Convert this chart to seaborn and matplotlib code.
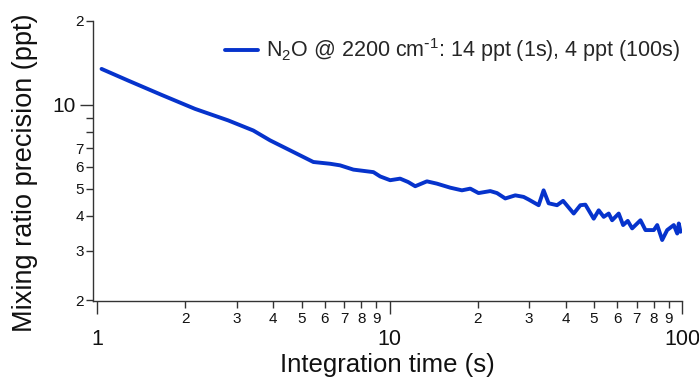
import matplotlib
import pandas as pd
import seaborn as sns

matplotlib.use("Agg")
from matplotlib import pyplot as plt
from matplotlib.ticker import FixedFormatter, FixedLocator

# Allan-type precision curve
time_s = [1.034, 1.275, 1.659, 2.158, 2.805, 3.416, 3.897, 4.563, 5.483, 6.255,
          6.768, 7.516, 8.800, 9.279, 10.04, 10.86, 11.57, 12.23, 13.41, 14.51,
          16.11, 17.67, 18.87, 20.14, 22.09, 23.29, 24.86, 26.90, 28.72, 29.88,
          32.33, 33.62, 34.98, 37.37, 39.20, 42.62, 44.91, 46.72, 49.89, 51.89,
          53.98, 56.15, 57.67, 60.75, 62.89, 65.23, 67.53, 72.10, 74.99, 80.09,
          82.27, 85.54, 88.98, 93.74, 96.30, 97.50, 98.80]
precision_ppt = [13.44, 12.21, 10.85, 9.67, 8.79, 8.09, 7.46, 6.87, 6.24, 6.15,
                 6.07, 5.86, 5.74, 5.54, 5.37, 5.44, 5.29, 5.11, 5.32, 5.22,
                 5.05, 4.94, 5.01, 4.83, 4.91, 4.83, 4.62, 4.74, 4.68, 4.58,
                 4.37, 4.94, 4.44, 4.37, 4.53, 4.08, 4.37, 4.39, 3.91, 4.19,
                 3.97, 4.08, 3.86, 4.08, 3.71, 3.84, 3.61, 3.86, 3.56, 3.56,
                 3.71, 3.28, 3.56, 3.71, 3.46, 3.76, 3.51]
series_label = r"N$_\mathregular{2}$O @ 2200 cm$^\mathregular{\text{-}1}$: 14 ppt (1s), 4 ppt (100s)"

x_major = [1, 10, 100]
x_major_labels = ["1", "10", "100"]
x_minor = [2, 3, 4, 5, 6, 7, 8, 9, 20, 30, 40, 50, 60, 70, 80, 90]
x_minor_labels = ["2", "3", "4", "5", "6", "7", "8", "9"] * 2
y_major = [10]
y_major_labels = ["10"]
y_minor = [2, 3, 4, 5, 6, 7, 8, 9, 20]
y_minor_labels = ["2", "3", "4", "5", "6", "7", "", "", "2"]

sns.set_theme(style="ticks")
plt.rcParams["font.family"] = ["Liberation Sans", "DejaVu Sans"]

df = pd.DataFrame({"time": time_s, "precision": precision_ppt})

fig = plt.figure(figsize=(6.99, 3.79), dpi=100)
ax = fig.add_axes([93 / 699, 1 - 301 / 379, 589 / 699, 280.3 / 379])
ax.set_xscale("log")
ax.set_yscale("log")
sns.lineplot(data=df, x="time", y="precision", ax=ax, color="#0633cc",
             linewidth=2.8, label=series_label, estimator=None, sort=False)

ax.set_xlim(0.9667, 100)
ax.set_ylim(1.984, 20)

ax.xaxis.set_major_locator(FixedLocator(x_major))
ax.xaxis.set_major_formatter(FixedFormatter(x_major_labels))
ax.xaxis.set_minor_locator(FixedLocator(x_minor))
ax.xaxis.set_minor_formatter(FixedFormatter(x_minor_labels))
ax.yaxis.set_major_locator(FixedLocator(y_major))
ax.yaxis.set_major_formatter(FixedFormatter(y_major_labels))
ax.yaxis.set_minor_locator(FixedLocator(y_minor))
ax.yaxis.set_minor_formatter(FixedFormatter(y_minor_labels))

ink = "#333333"
for side in ["top", "right"]:
    ax.spines[side].set_visible(False)
for side in ["left", "bottom"]:
    ax.spines[side].set_color(ink)
    ax.spines[side].set_linewidth(1.0)

ax.tick_params(axis="x", which="major", length=9, width=1, color=ink,
               labelsize=15.5, pad=11, labelcolor="#111111")
ax.tick_params(axis="x", which="minor", length=5, width=1, color=ink,
               labelsize=11, pad=3, labelcolor="#111111")
ax.tick_params(axis="y", which="major", length=9.5, width=1, color=ink,
               labelsize=15, pad=3, labelcolor="#111111")
ax.tick_params(axis="y", which="minor", length=5, width=1, color=ink,
               labelsize=11, pad=1.5, labelcolor="#111111")

ax.set_xlabel("Integration time (s)", fontsize=18.5, color="#111111", labelpad=2)
ax.set_ylabel("Mixing ratio precision (ppt)", fontsize=19.5, color="#111111")
ax.yaxis.set_label_coords(-0.094, 0.457)

ax.legend(loc="upper right", bbox_to_anchor=(1.011, 0.975), frameon=False,
          fontsize=15.5, handlelength=1.53, handletextpad=0.37, borderaxespad=0)

fig.savefig("out.png", dpi=100)
